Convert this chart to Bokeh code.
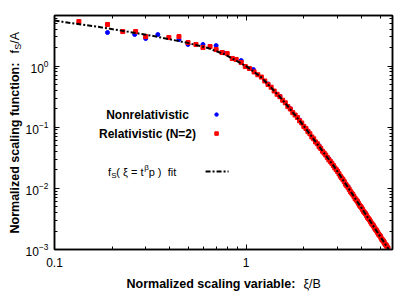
import math
from bokeh.plotting import figure
from bokeh.models import (Range1d, LogAxis, FixedTicker, Label, BasicTickFormatter,
                          LogTickFormatter, CustomJSTickFormatter)
from bokeh.embed import file_html
from bokeh.resources import INLINE

# ---- data ----
fit_xi = [0.1, 0.13, 0.174, 0.24, 0.318, 0.4, 0.495, 0.631, 0.769, 1.0, 1.2, 1.35, 1.524,
          1.75, 1.941, 2.188, 2.5, 2.897, 3.4, 4.0, 5.0, 5.559, 6.0]
fit_f = [5.53, 4.91, 4.31, 3.65, 3.15, 2.73, 2.39, 1.97, 1.56, 0.995, 0.653, 0.443, 0.296,
         0.175, 0.118, 0.0716, 0.0409, 0.0220, 0.0103, 0.00476, 0.00164, 0.000986, 0.000685]

red_xi = [0.134, 0.189, 0.227, 0.265, 0.299, 0.395, 0.446, 0.497, 0.547, 0.595,
          0.648, 0.697, 0.748, 0.796, 0.846, 0.887, 0.942, 0.989, 1.04, 1.10,
          1.15, 1.20, 1.25, 1.30, 1.35, 1.40, 1.45, 1.50, 1.55, 1.60,
          1.65, 1.70, 1.75, 1.80, 1.85, 1.90, 1.95, 2.00, 2.05, 2.10,
          2.15, 2.20, 2.25, 2.30, 2.35, 2.40, 2.45, 2.50, 2.55, 2.60,
          2.65, 2.70, 2.75, 2.80, 2.85, 2.90, 2.95, 3.00, 3.05, 3.10,
          3.15, 3.20, 3.25, 3.30, 3.35, 3.40, 3.45, 3.50, 3.55, 3.60,
          3.65, 3.70, 3.75, 3.80, 3.85, 3.90, 3.95, 4.00, 4.05, 4.10,
          4.15, 4.20, 4.25, 4.30, 4.35, 4.40, 4.45, 4.50, 4.55, 4.60,
          4.65, 4.70, 4.75, 4.80, 4.85, 4.90, 4.95, 5.00, 5.05, 5.10,
          5.15, 5.20, 5.25, 5.30, 5.35, 5.40, 5.45, 5.50]
red_f = [5.33, 4.77, 3.66, 3.66, 3.03, 2.92, 3.03, 2.42, 2.25, 2.01,
         2.08, 1.86, 1.66, 1.60, 1.33, 1.28, 1.14, 0.98, 0.91, 0.80,
         0.72, 0.66, 0.57, 0.50, 0.45, 0.39, 0.345, 0.315, 0.276, 0.250,
         0.217, 0.198, 0.173, 0.158, 0.144, 0.127, 0.117, 0.103, 0.0950, 0.0845,
         0.0780, 0.0693, 0.0645, 0.0575, 0.0536, 0.0480, 0.0450, 0.0405, 0.0377, 0.0350,
         0.0320, 0.0293, 0.0274, 0.0257, 0.0236, 0.0216, 0.0202, 0.0189, 0.0173, 0.0158,
         0.0148, 0.0139, 0.0128, 0.0117, 0.0110, 0.0104, 0.0096, 0.00885, 0.00839, 0.00795,
         0.00736, 0.00682, 0.00647, 0.00614, 0.00570, 0.00530, 0.00505, 0.00481, 0.00449, 0.00419,
         0.00400, 0.00382, 0.00357, 0.00333, 0.00319, 0.00305, 0.00286, 0.00269, 0.00258, 0.00247,
         0.00232, 0.00218, 0.00210, 0.00202, 0.00190, 0.00179, 0.00172, 0.00166, 0.00156, 0.00147,
         0.00142, 0.00137, 0.00130, 0.00123, 0.00119, 0.00115, 0.00109, 0.00104]

blue_xi = [0.189, 0.262, 0.299, 0.346, 0.446, 0.497, 0.595, 0.697, 0.759, 0.942,
           1.09, 1.3, 1.5, 1.7, 1.9, 2.1, 2.4, 2.7, 3.0, 3.4,
           3.8, 4.2, 4.6, 5.0, 5.4]
blue_f = [3.53, 3.27, 2.81, 3.27, 2.71, 2.25, 2.25, 2.16, 1.66, 1.23,
          0.877, 0.51, 0.32, 0.20, 0.131, 0.087, 0.050, 0.0305, 0.0192, 0.0106,
          0.0062, 0.0039, 0.00251, 0.00169, 0.00117]

x_major = [0.1, 1.0]
x_minor = [0.2, 0.3, 0.4, 0.5, 0.6, 0.7, 0.8, 0.9, 2.0, 3.0, 4.0, 5.0]
x_tick_labels = {0.1: "0.1", 1.0: "1"}
y_major = [1e-3, 1e-2, 1e-1, 1.0]
y_minor = [m * d for d in (1e-3, 1e-2, 1e-1, 1.0) for m in range(2, 10)]

legend_names = ["Nonrelativistic", "Relativistic (N=2)"]

X0, X1 = 0.1, 5.8
Y0, Y1 = 1e-3, 6.7

FONT = "Liberation Sans"

p = figure(width=415, height=291, x_axis_type="log", y_axis_type="log",
           x_range=Range1d(X0, X1), y_range=Range1d(Y0, Y1),
           output_backend="svg", toolbar_location=None,
           min_border_left=54, min_border_right=23, min_border_top=15, min_border_bottom=42)
p.grid.visible = False
p.outline_line_color = "black"
p.outline_line_width = 1.5
p.background_fill_color = "white"
p.border_fill_color = "white"


def style_axis(ax):
    ax.axis_line_color = "black"
    ax.axis_line_width = 1.5
    ax.major_tick_in = 5
    ax.major_tick_out = 0
    ax.minor_tick_in = 3
    ax.minor_tick_out = 0
    ax.major_tick_line_color = "black"
    ax.minor_tick_line_color = "black"
    ax.major_label_text_font = FONT
    ax.major_label_text_color = "black"
    ax.major_label_text_font_size = "12px"


xa = p.xaxis[0]
xa.ticker = FixedTicker(ticks=x_major, minor_ticks=x_minor)
xa.formatter = BasicTickFormatter()
xa.major_label_overrides = x_tick_labels
style_axis(xa)
xa.major_label_standoff = 8

ya = p.yaxis[0]
ya.ticker = FixedTicker(ticks=y_major, minor_ticks=y_minor)
ya.formatter = LogTickFormatter()
style_axis(ya)
ya.major_label_standoff = 6

top = LogAxis(ticker=FixedTicker(ticks=x_major, minor_ticks=x_minor),
              formatter=CustomJSTickFormatter(code="return ''"))
style_axis(top)
top.major_label_standoff = 0
p.add_layout(top, "above")
right = LogAxis(ticker=FixedTicker(ticks=y_major, minor_ticks=y_minor),
                formatter=CustomJSTickFormatter(code="return ''"))
style_axis(right)
right.major_label_standoff = 0
p.add_layout(right, "right")

# ---- data ----
p.scatter(blue_xi, blue_f, marker="circle", size=4, color="#0000ff")
p.scatter(red_xi, red_f, marker="square", size=4, color="#ff0000")
p.line(fit_xi, fit_f, color="black", line_width=2, line_dash="5 2 2 2")


# ---- key (label left, sample right) ----
def px_to_x(px):
    return 10 ** (-1 + px / 191.6)


def py_to_y(py):
    return 10 ** (-3 + py / 61.2)


p.scatter([px_to_x(162)], [py_to_y(135)], marker="circle", size=3.5, color="#0000ff")
p.scatter([px_to_x(162)], [py_to_y(116)], marker="square", size=3.5, color="#ff0000")
p.line([px_to_x(151), px_to_x(174)], [py_to_y(78)] * 2, color="black", line_width=2,
       line_dash="5 2 2 2")


def lab(text, dx, dy, size="12px", style="normal", align="left", baseline="middle",
        angle=0.0, side=None):
    l = Label(x=X0, y=Y0, x_offset=dx, y_offset=dy, text=text,
              text_font=FONT, text_font_size=size, text_font_style=style,
              text_align=align, text_baseline=baseline, text_color="black",
              angle=angle)
    if side is None:
        p.add_layout(l)
    else:
        p.add_layout(l, side)


lab(legend_names[0], 93, 135, size="12px", style="bold", align="center")
lab(legend_names[1], 93, 116, size="12px", style="bold", align="center")

# f_S( xi = t^beta p )  fit
lab("f", 53.5, 78, size="11px")
lab("S", 56.8, 74.5, size="8px")
lab("( \u03be = t", 61.7, 78, size="11px")
lab("\u03b2", 89.7, 82, size="8px")
lab("p )\u00a0\u00a0fit", 94.2, 78, size="11px")

# x axis title
lab("Normalized scaling variable:", 72, -34.5, size="12.5px", style="bold",
    baseline="alphabetic", side="below")
lab("\u03be/B", 249, -34.5, size="12.5px", baseline="alphabetic", side="above")

# y axis title (rotated)
A = math.pi / 2
lab("Normalized scaling function:", -39.5, 16, size="12.5px", style="bold",
    baseline="alphabetic", angle=A, side="left")
lab("f\u2002/A", -39.5, 196, size="12.5px", baseline="alphabetic", angle=A, side="right")
lab("S", -36.5, 199.8, size="9px", baseline="alphabetic", angle=A, side="below")

open("out.html", "w").write(file_html(p, INLINE))
